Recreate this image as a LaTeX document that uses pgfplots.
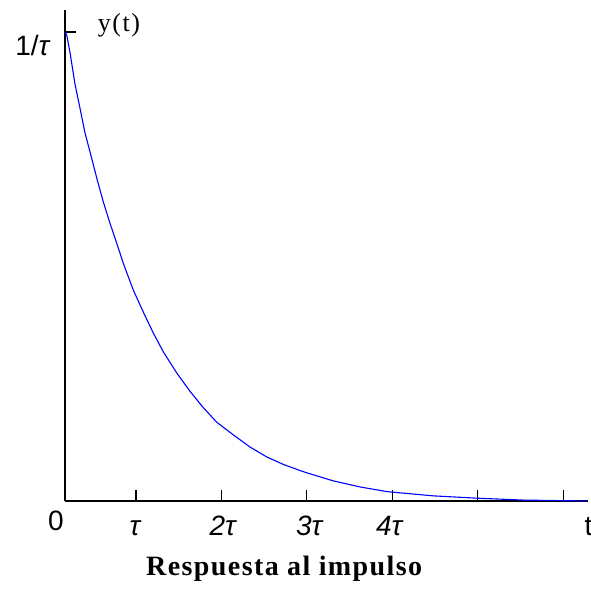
\documentclass[border=0pt]{standalone}
\usepackage{fontspec}
\setmainfont{Liberation Serif}
\newfontfamily\sansf{Liberation Sans}
\newfontfamily\titlef[LetterSpace=5]{Liberation Serif}
\newfontfamily\labf[LetterSpace=6]{Liberation Serif}
\usepackage{pgfplots}
\pgfplotsset{compat=1.18}
\begin{document}
\begin{tikzpicture}
\useasboundingbox (-65pt,-89pt) rectangle (526pt,501pt);
\begin{axis}[at={(0,0)}, anchor=south west, scale only axis,
  width=523pt, height=491pt,
  xmin=0.169, xmax=6.29, ymin=0, ymax=1.047,
  axis lines*=left,
  axis line style={line width=1.2pt, black},
  xtick={1,2,3,4,5,6}, xticklabels={,,,,,},
  ytick={1}, yticklabels={,},
  tick align=inside, major tick length=11pt,
  tick style={line width=1.2pt, black},
  clip=false]
\addplot[blue, line width=1.1pt, sharp plot] coordinates {
(0.169,1.000) (0.189,0.994) (0.227,0.957) (0.285,0.890) (0.344,0.838)
(0.403,0.785) (0.481,0.731) (0.540,0.689) (0.617,0.638) (0.696,0.592)
(0.774,0.550) (0.851,0.507) (0.968,0.450) (1.085,0.403) (1.203,0.358)
(1.320,0.318) (1.477,0.273) (1.632,0.234) (1.788,0.199) (1.945,0.168)
(2.139,0.141) (2.335,0.115) (2.530,0.094) (2.725,0.078) (2.920,0.065)
(3.002,0.060) (3.307,0.043) (3.622,0.030) (3.938,0.020)
(4.477,0.011) (4.993,0.006) (5.532,0.002) (6.280,0.000)
};
\node[anchor=base, font=\sansf\fontsize{28}{28}\selectfont, yshift=-29pt] at (axis cs:0.063,0) {0};
\node[anchor=base, font=\sansf\fontsize{28}{28}\selectfont\itshape, yshift=-34pt] at (axis cs:0.988,0) {τ};
\node[anchor=base, font=\sansf\fontsize{28}{28}\selectfont\itshape, yshift=-34pt] at (axis cs:2.013,0) {2τ};
\node[anchor=base, font=\sansf\fontsize{28}{28}\selectfont\itshape, yshift=-34pt] at (axis cs:3.026,0) {3τ};
\node[anchor=base, font=\sansf\fontsize{28}{28}\selectfont\itshape, yshift=-34pt] at (axis cs:3.963,0) {4τ};
\node[anchor=base west, inner sep=0pt, font=\sansf\fontsize{28}{28}\selectfont, yshift=-34pt] at (axis cs:6.247,0) {t};
\node[anchor=base, font=\sansf\fontsize{28}{28}\selectfont] at (axis cs:-0.206,0.951) {1/\textit{τ}};
\node[anchor=base, font=\labf\fontsize{26}{26}\selectfont] at (axis cs:0.801,1.002) {y(t)};
\node[anchor=base, font=\titlef\bfseries\fontsize{28}{28}\selectfont] at (axis cs:2.734,-0.158) {Respuesta al impulso};
\end{axis}
\end{tikzpicture}
\end{document}
